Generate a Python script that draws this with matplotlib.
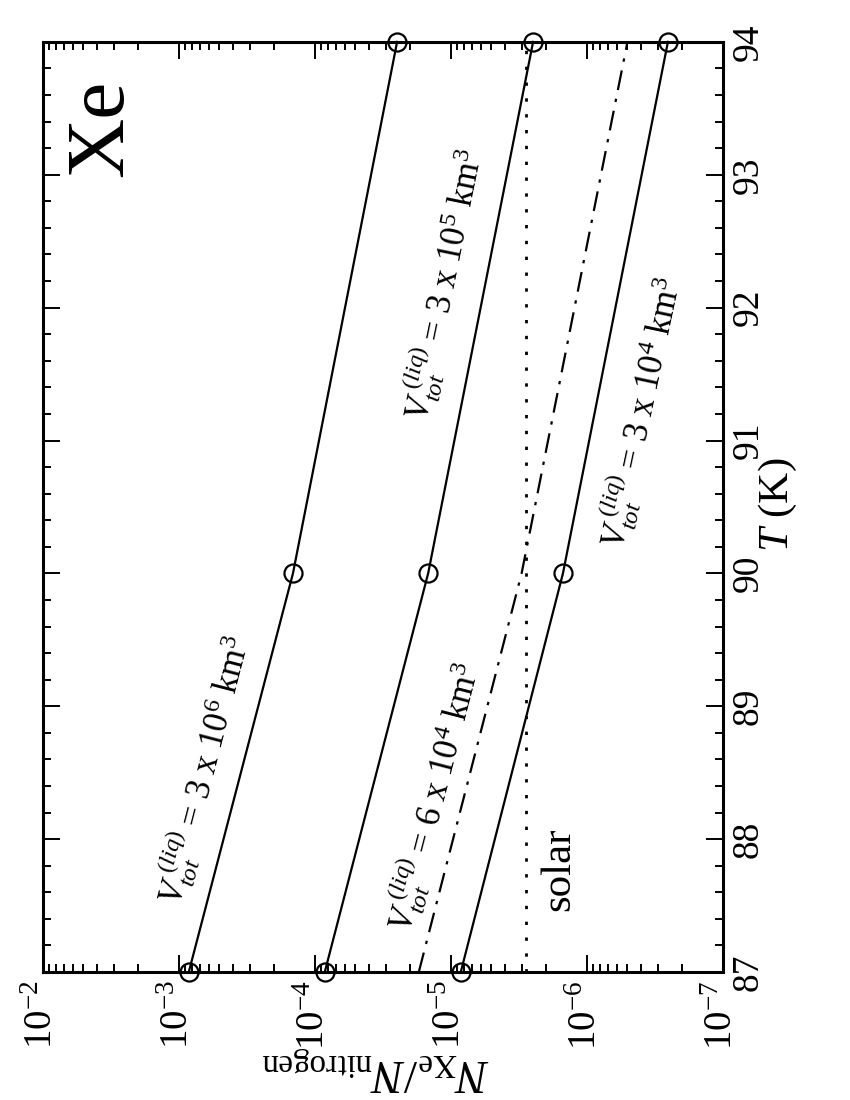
import matplotlib
matplotlib.use("Agg")
import matplotlib.pyplot as plt
from matplotlib.ticker import LogLocator, MultipleLocator, NullFormatter, FixedLocator

# ---- data ----
T_points = [87, 90, 94]
v_3e6 = [8.4e-4, 1.44e-4, 2.47e-5]
v_3e5 = [8.4e-5, 1.46e-5, 2.47e-6]
v_3e4 = [8.4e-6, 1.49e-6, 2.52e-7]
v_6e4 = [1.71e-5, 3.0e-6, 5.0e-7]
solar_value = 2.8e-6
T_range = [87, 94]

x_ticks = [1e-2, 1e-3, 1e-4, 1e-5, 1e-6, 1e-7]
x_ticklabels = [r"$10^{-2}$", r"$10^{-3}$", r"$10^{-4}$", r"$10^{-5}$", r"$10^{-6}$", r"$10^{-7}$"]
T_ticks = [87, 88, 89, 90, 91, 92, 93, 94]

plt.rcParams['font.family'] = ['Liberation Serif', 'DejaVu Serif']
plt.rcParams['mathtext.fontset'] = 'custom'
plt.rcParams['mathtext.rm'] = 'Liberation Serif'
plt.rcParams['mathtext.it'] = 'Liberation Serif:italic'
plt.rcParams['mathtext.bf'] = 'Liberation Serif:bold'

fig = plt.figure(figsize=(8.5, 11), dpi=100)
ax = fig.add_axes([0.05, 0.1164, 0.80, 0.8455])

lw = 1.6
mk = dict(marker='o', markersize=13, markerfacecolor='none', markeredgecolor='black', markeredgewidth=1.6)
for vals in (v_3e6, v_3e5, v_3e4):
    ax.plot(vals, T_points, color='black', lw=lw, **mk, clip_on=False, zorder=3)

ax.plot(v_6e4, T_points, color='black', lw=lw, dashes=(9, 4, 1.5, 4))
ax.plot([solar_value, solar_value], T_range, color='black', lw=2.0, linestyle=(0, (1.2, 4.5)))

ax.set_xscale('log')
ax.set_xlim(1e-2, 1e-7)
ax.set_ylim(87, 94)

ax.xaxis.set_major_locator(FixedLocator(x_ticks))
ax.set_xticklabels(x_ticklabels)
ax.xaxis.set_minor_locator(LogLocator(base=10, subs=range(2, 10), numticks=20))
ax.xaxis.set_minor_formatter(NullFormatter())

ax.yaxis.set_major_locator(FixedLocator(T_ticks))
ax.set_yticklabels([str(t) for t in T_ticks])
ax.yaxis.set_minor_locator(MultipleLocator(0.2))

ax.tick_params(which='both', direction='in', top=True, bottom=True, left=True, right=True, width=1.4)
ax.tick_params(which='major', length=12)
ax.tick_params(which='minor', length=6)
ax.tick_params(axis='x', labelsize=28, labelrotation=90, pad=6)
ax.tick_params(axis='y', labelleft=False, labelright=True, labelsize=27, labelrotation=90, pad=6)
for lab in ax.get_xticklabels():
    lab.set_va('top'); lab.set_ha('center')
for lab in ax.get_yticklabels():
    lab.set_va('center'); lab.set_ha('left')
for s in ax.spines.values():
    s.set_linewidth(2.2)

# annotations
fs = 25
ax.text(6.6e-4, 88.52, r"$V_{tot}^{\ (liq)}$ = 3 x 10$^{6}$ km$^{3}$", rotation=75.5, rotation_mode='anchor',
        ha='center', va='center', fontsize=fs)
ax.text(1.14e-5, 92.18, r"$V_{tot}^{\ (liq)}$ = 3 x 10$^{5}$ km$^{3}$", rotation=78.5, rotation_mode='anchor',
        ha='center', va='center', fontsize=fs)
ax.text(1.35e-5, 88.32, r"$V_{tot}^{\ (liq)}$ = 6 x 10$^{4}$ km$^{3}$", rotation=75.5, rotation_mode='anchor',
        ha='center', va='center', fontsize=fs)
ax.text(4.04e-7, 91.21, r"$V_{tot}^{\ (liq)}$ = 3 x 10$^{4}$ km$^{3}$", rotation=78, rotation_mode='anchor',
        ha='center', va='center', fontsize=fs)
ax.text(1.59e-6, 87.77, "solar", rotation=90, ha='center', va='center', fontsize=31)
ax.text(3.65e-3, 93.35, "Xe", rotation=90, ha='center', va='center', fontsize=60)

fig.text(778/850, 1 - 505/1100, r"$T$ (K)", rotation=90, ha='center', va='center', fontsize=31)
fig.text(375/850, 1 - 1068/1100, r"$N_{\mathrm{Xe}}/N_{\mathrm{nitrogen}}$", rotation=180,
         ha='center', va='center', fontsize=34)

fig.savefig("out.png", dpi=100)
